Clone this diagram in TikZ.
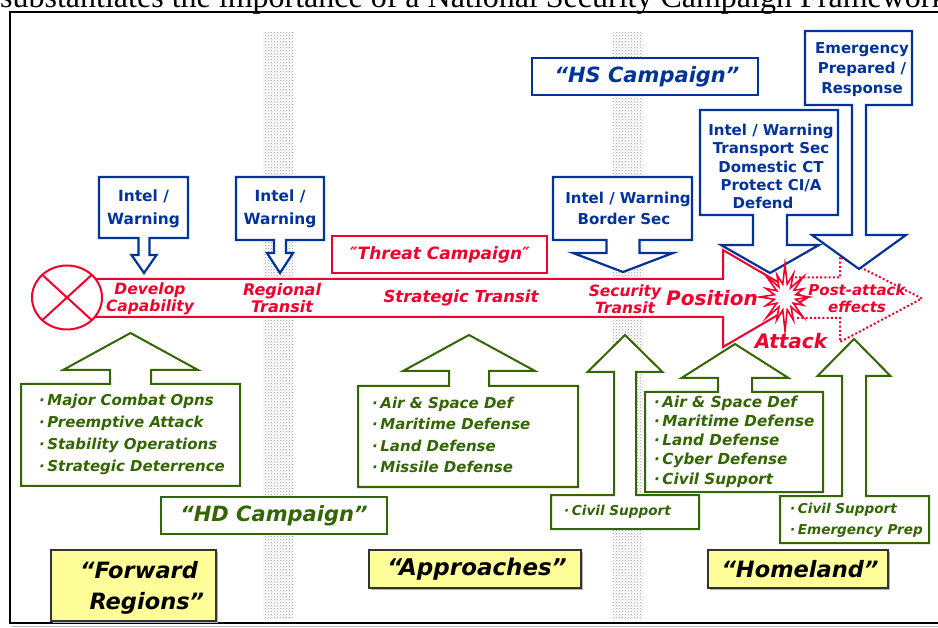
\documentclass[tikz,border=0pt]{standalone}
\usepackage{fontspec}
\setmainfont{Liberation Serif}
\newfontfamily\dv{DejaVu Sans}
\usetikzlibrary{patterns}
\definecolor{bl}{RGB}{0,51,153}
\definecolor{gr}{RGB}{51,102,0}
\definecolor{rd}{RGB}{240,0,45}
\definecolor{yl}{RGB}{255,255,153}
\newcommand\fs[2]{\fontsize{#1}{#2}\selectfont}
\newcommand\bul{·\kern2.5pt}
% x1 x2 yattach yfar cx sw ybase hw ytip
\newcommand\bcallout[9]{\draw[bluecall] (#1,#4) -- (#2,#4) -- (#2,#3) -- ({#5+#6},#3) -- ({#5+#6},#7) -- ({#5+#8},#7) -- (#5,#9) -- ({#5-#8},#7) -- ({#5-#6},#7) -- ({#5-#6},#3) -- (#1,#3) -- cycle;}
\newcommand\gcallout[9]{\draw[greencall] (#1,#4) -- (#2,#4) -- (#2,#3) -- ({#5+#6},#3) -- ({#5+#6},#7) -- ({#5+#8},#7) -- (#5,#9) -- ({#5-#8},#7) -- ({#5-#6},#7) -- ({#5-#6},#3) -- (#1,#3) -- cycle;}
\tikzset{
  bluecall/.style={draw=bl, line width=2.2, fill=white, line join=miter},
  greencall/.style={draw=gr, line width=2, fill=white, line join=miter},
  btxt/.style={text=bl, align=center, inner sep=0},
  rtxt/.style={text=rd, align=center, inner sep=0},
  gtxt/.style={text=gr, align=left, inner sep=0, anchor=west},
  ytxt/.style={text=black, align=center, inner sep=0},
  band/.style={pattern=crosshatch dots, pattern color=gray!75},
  ybox/.style={draw=black!80, line width=1.4, fill=yl},
  yshadow/.style={fill=gray!60},
}
\begin{document}
\begin{tikzpicture}[x=1pt,y=-1pt]
\useasboundingbox (0,0) rectangle (938,628);
\fill[white] (0,0) rectangle (938,628);
% caption (cut by the top edge)
\node[anchor=base west, inner sep=0, font=\fs{32}{33}] (cap) at (0,8) {substantiates the importance of a National Security Campaign Framework};
% frame
\draw[gray!55, line width=1.5] (12,626.5) -- (940,626.5);
\draw[line width=2] (940,12) -- (9.5,12) -- (9.5,623) -- (940,623);
% dotted bands
\fill[band] (263,32) rectangle (293,618);
\fill[band] (613,32) rectangle (643,618);
% threat campaign label
\draw[rd, line width=1.3, fill=white] (332,236) rectangle (547,273);
\node[rtxt, font=\dv\bfseries\itshape\fs{17}{20}] (threat) at (440,254.5) {″Threat Campaign″};
% red threat arrow
\draw[rd, line width=2, fill=white, line join=miter] (67,279) -- (723,279) -- (723,250) -- (806,298.5) -- (723,347) -- (723,317) -- (67,317) -- cycle;
% origin circle
\draw[rd, line width=2, fill=white] (67,297.5) ellipse [x radius=35, y radius=32];
\draw[rd, line width=2] (42.3,274.9) -- (91.7,320.1) (42.3,320.1) -- (91.7,274.9);
% post-attack dotted arrow
\draw[rd, line width=2, dash pattern=on 2pt off 2.2pt] (795,277.5) -- (840,277.5) -- (840,257) -- (922,298.5) -- (840,342) -- (840,318) -- (795,318);
% blue callouts
\bcallout{99}{188}{238}{177}{144}{5.5}{255}{12.5}{273}
\bcallout{236}{324}{240}{177}{280}{6}{253}{13}{273}
\bcallout{553}{692}{240}{177}{623}{16.5}{253}{50}{272}
\bcallout{700}{838}{215}{110}{770}{17}{245}{49}{273}
\bcallout{805}{912}{105}{31}{859}{7}{235}{47}{269}
% burst
\draw[rd, line width=1.6, fill=white, line join=miter, shift={(785,297)}, xscale=0.9]
  (0:27) -- (11:12) -- (22:22) -- (34:11) -- (45:28) -- (56:12) -- (68:25) -- (79:13) -- (90:34) -- (101:13) -- (112:25) -- (124:12) -- (135:29) -- (146:11) -- (158:23) -- (169:12) -- (180:28) -- (191:12) -- (202:23) -- (214:11) -- (225:30) -- (236:12) -- (248:24) -- (259:13) -- (270:33) -- (281:13) -- (292:25) -- (304:11) -- (315:28) -- (326:12) -- (338:22) -- (349:12) -- cycle;
% green callouts
\gcallout{21}{240}{384}{486}{130.5}{20.5}{370}{67.5}{333}
\gcallout{358}{578}{386}{487}{469}{20}{371}{66}{335}
\gcallout{551}{699}{495}{529}{625}{11}{372}{37.5}{335}
\gcallout{645}{823}{392}{492}{735}{17}{378}{53.5}{344}
\gcallout{780}{929}{496}{543}{854}{12}{376}{36.5}{339}
% campaign boxes
\draw[bl, line width=1.3, fill=white] (532,58) rectangle (758,95);
\node[btxt, font=\dv\bfseries\itshape\fs{21}{24}] (hs) at (647,77) {“HS Campaign”};
\draw[gr, line width=1.3, fill=white] (161,497) rectangle (387,534);
\node[text=gr, inner sep=0, font=\dv\bfseries\itshape\fs{21}{24}] (hd) at (274,515.5) {“HD Campaign”};
% yellow region boxes
\fill[yshadow] (53,552) rectangle (218,623);
\draw[ybox] (51,550) rectangle (216,621);
\node[ytxt, font=\dv\bfseries\itshape\fs{22.5}{31}] (fwd) at (139,588) {“Forward\\\ \ Regions”};
\fill[yshadow] (371,552) rectangle (583,590);
\draw[ybox] (369,550) rectangle (581,588);
\node[ytxt, font=\dv\bfseries\itshape\fs{23}{26}] (appr) at (477,569) {“Approaches”};
\fill[yshadow] (710,552) rectangle (890,590);
\draw[ybox] (708,550) rectangle (888,588);
\node[ytxt, font=\dv\bfseries\itshape\fs{22.5}{26}] (home) at (800,569) {“Homeland”};
% blue texts
\node[btxt, font=\dv\bfseries\fs{15.4}{23}] (iw1) at (143.5,208.5) {Intel /\\Warning};
\node[btxt, font=\dv\bfseries\fs{15.4}{23}] (iw2) at (280,208.5) {Intel /\\Warning};
\node[btxt, font=\dv\bfseries\fs{15}{21}] (iw3) at (624,208.5) {\hspace*{8pt}Intel / Warning\\Border Sec};
\node[btxt, font=\dv\bfseries\fs{15}{18.3}] (iw4) at (771,166.5) {Intel / Warning\\Transport Sec\\Domestic CT\\Protect CI/A\\Defend\hspace*{16pt}};
\node[btxt, font=\dv\bfseries\fs{15}{20}] (emer) at (862,70) {Emergency\\Prepared /\\Response};
% red texts
\node[rtxt, font=\dv\bfseries\itshape\fs{15.5}{17}] (dev) at (150,298.5) {Develop\\Capability};
\node[rtxt, font=\dv\bfseries\itshape\fs{16}{17}] (reg) at (282,298.5) {Regional\\Transit};
\node[rtxt, font=\dv\bfseries\itshape\fs{16.5}{18}] (strat) at (461,298) {Strategic Transit};
\node[rtxt, font=\dv\bfseries\itshape\fs{15.5}{17}] (sec) at (625,299.5) {Security\\Transit};
\node[rtxt, font=\dv\bfseries\itshape\fs{20}{22}] (pos) at (712,298) {Position};
\node[rtxt, font=\dv\bfseries\itshape\fs{20}{22}] (att) at (791,341) {Attack};
\node[rtxt, font=\dv\bfseries\itshape\fs{15}{17}] (post) at (857,298.5) {Post-attack\\effects};
% green texts
\node[gtxt, font=\dv\bfseries\itshape\fs{15}{22}] (l1) at (39,434) {\bul Major Combat Opns\\\bul Preemptive Attack\\\bul Stability Operations\\\bul Strategic Deterrence};
\node[gtxt, font=\dv\bfseries\itshape\fs{15}{21.3}] (l2) at (372,435) {\bul Air \& Space Def\\\bul Maritime Defense\\\bul Land Defense\\\bul Missile Defense};
\node[gtxt, font=\dv\bfseries\itshape\fs{13.6}{16}] (l3) at (564,512) {\bul Civil Support};
\node[gtxt, font=\dv\bfseries\itshape\fs{15.2}{19.25}] (l4) at (654,441.5) {\bul Air \& Space Def\\\bul Maritime Defense\\\bul Land Defense\\\bul Cyber Defense\\\bul Civil Support};
\node[gtxt, font=\dv\bfseries\itshape\fs{13.6}{21}] (l5) at (790,520.5) {\bul Civil Support\\\bul Emergency Prep};
\end{tikzpicture}
\end{document}
